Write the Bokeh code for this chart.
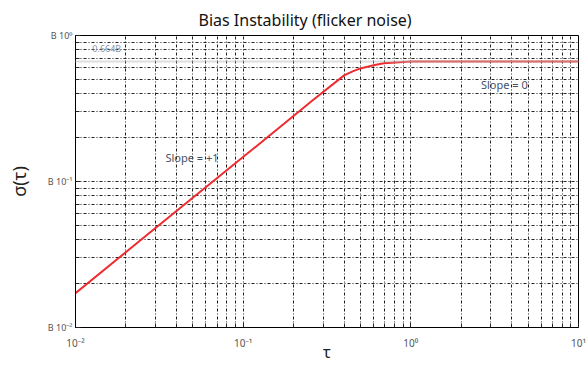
from bokeh.plotting import figure
from bokeh.models import FixedTicker, Label, Span
from bokeh.embed import file_html
from bokeh.resources import INLINE

# data
tau = [0.01, 0.03, 0.13, 0.26, 0.40, 0.45, 0.50, 0.60, 0.69, 1.0, 10.0]
sigma = [0.0172, 0.048, 0.188, 0.36, 0.533, 0.568, 0.595, 0.625, 0.646, 0.664, 0.664]
y_ticks = [0.01, 0.1, 1.0]
y_tick_labels = ["B 10\u207b\u00b2", "B 10\u207b\u00b9", "B 10\u2070"]
x_ticks = [0.01, 0.1, 1.0, 10.0]
x_tick_labels = ["10\u207b\u00b2", "10\u207b\u00b9", "10\u2070", "10\u00b9"]
flat_level = 0.664

FONT = "Noto Sans"

p = figure(width=587, height=365, x_axis_type="log", y_axis_type="log",
           x_range=(0.01, 10), y_range=(0.01, 1.0),
           output_backend="svg", toolbar_location=None,
           min_border_left=75, min_border_right=9, min_border_top=35,
           min_border_bottom=37,
           title="Bias Instability (flicker noise)")

p.title.align = "left"
p.title.offset = 123
p.title.text_font = FONT
p.title.text_font_size = "16px"
p.title.text_font_style = "normal"
p.title.text_color = "#111111"

p.outline_line_color = "black"
p.outline_line_width = 1
p.background_fill_color = "white"
p.border_fill_color = "white"

for ax, ticks, labels in ((p.xaxis[0], x_ticks, x_tick_labels), (p.yaxis[0], y_ticks, y_tick_labels)):
    ax.major_label_overrides = {t: l for t, l in zip(ticks, labels)}
    ax.major_label_text_font = FONT
    ax.major_label_text_color = "#555555"
    ax.axis_line_color = "black"
    ax.major_tick_in = 5
    ax.major_tick_out = 0
    ax.minor_tick_in = 4
    ax.minor_tick_out = 0
    ax.major_tick_line_color = "#222222"
    ax.minor_tick_line_color = "#222222"
    ax.axis_label_text_font = FONT
    ax.axis_label_text_font_style = "normal"
    ax.axis_label_text_color = "#222222"

p.xaxis.ticker = FixedTicker(ticks=x_ticks, minor_ticks=[m * 10.0 ** e for e in (-2, -1, 0) for m in range(2, 10)])
p.yaxis.ticker = FixedTicker(ticks=y_ticks, minor_ticks=[m * 10.0 ** e for e in (-2, -1) for m in range(2, 10)])

p.xaxis.major_label_text_font_size = "10px"
p.xaxis.major_label_standoff = 8
p.xaxis.axis_label = "\u03c4"
p.xaxis.axis_label_text_font_size = "16px"
p.xaxis.axis_label_standoff = -12

p.yaxis.major_label_text_font_size = "9px"
p.yaxis.major_label_standoff = 3
p.yaxis.axis_label = "\u03c3(\u03c4)"
p.yaxis.axis_label_text_font_size = "18px"
p.yaxis.axis_label_standoff = 14

for g in (p.xgrid[0], p.ygrid[0]):
    g.grid_line_color = "#222222"
    g.grid_line_dash = "3 2 1 2"
    g.grid_line_width = 1
    g.minor_grid_line_color = "#222222"
    g.minor_grid_line_dash = "3 2 1 2"
    g.minor_grid_line_width = 1

p.add_layout(Span(location=flat_level, dimension="width", line_color="#bbbbbb",
                  line_dash="1 1", line_width=2))

p.line(tau, sigma, line_color="#ee2b2f", line_width=2)

p.add_layout(Label(x=0.0126, y=0.815, text="0.664B", text_font=FONT,
                   text_font_size="9px", text_color="#8a93a8", text_baseline="middle"))
p.add_layout(Label(x=0.0344, y=0.147, text="Slope = +1", text_font=FONT,
                   text_font_size="11px", text_color="#44506a", text_baseline="middle"))
p.add_layout(Label(x=2.62, y=0.463, text="Slope = 0", text_font=FONT,
                   text_font_size="11px", text_color="#44506a", text_baseline="middle"))

open("out.html", "w").write(file_html(p, INLINE))
